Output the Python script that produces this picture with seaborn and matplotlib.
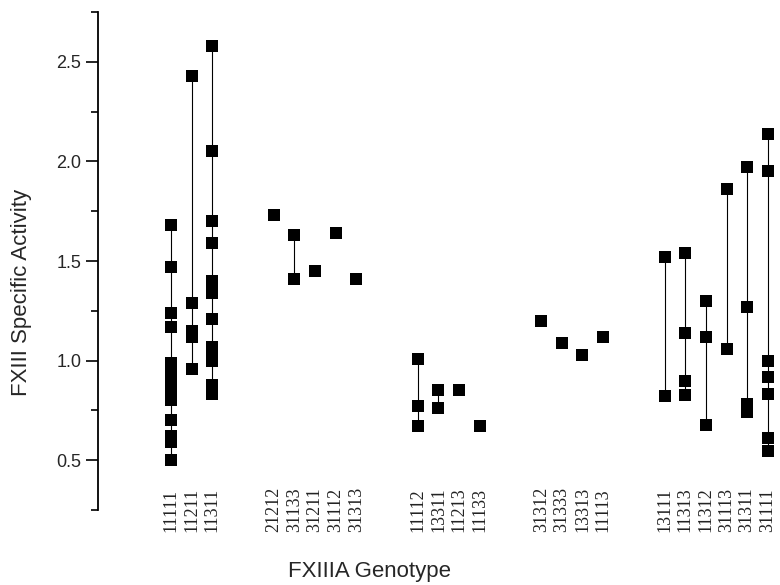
import numpy as np
import pandas as pd
import matplotlib
matplotlib.use("Agg")
import matplotlib.pyplot as plt
from matplotlib.ticker import AutoMinorLocator, MultipleLocator
import seaborn as sns

# ---- data ----
genotypes = ["11111", "11211", "11311",
             "21212", "31133", "31211", "31112", "31313",
             "11112", "13311", "11213", "11133",
             "31312", "31333", "13313", "11113",
             "13111", "11313", "11312", "31113", "31311", "31111"]
group_sizes = [3, 5, 4, 4, 6]
activity = [
    [1.68, 1.47, 1.24, 1.17, 0.99, 0.95, 0.91, 0.88, 0.85, 0.82, 0.80, 0.70, 0.62, 0.59, 0.50],
    [2.43, 1.29, 1.15, 1.12, 0.96],
    [2.58, 2.05, 1.70, 1.59, 1.40, 1.34, 1.21, 1.07, 1.04, 1.00, 0.88, 0.83],
    [1.73],
    [1.63, 1.41],
    [1.45],
    [1.64],
    [1.41],
    [1.01, 0.77, 0.67],
    [0.85, 0.76],
    [0.85],
    [0.67],
    [1.20],
    [1.09],
    [1.03],
    [1.12],
    [1.52, 0.82],
    [1.54, 1.14, 0.90, 0.825],
    [1.30, 1.12, 0.675],
    [1.86, 1.06],
    [1.97, 1.27, 0.78, 0.74],
    [2.14, 1.95, 1.00, 0.92, 0.83, 0.61, 0.545],
]

# ---- layout: gap of 2 empty slots between groups ----
GAP = 2
positions = []
slot = 0
for gsize in group_sizes:
    for _ in range(gsize):
        positions.append(slot)
        slot += 1
    slot += GAP

rows = []
for g, pos, vals in zip(genotypes, positions, activity):
    for v in vals:
        rows.append({"genotype": g, "pos": pos, "activity": v})
df = pd.DataFrame(rows)

sns.set_theme(style="ticks")
plt.rcParams["font.family"] = ["Liberation Sans", "DejaVu Sans"]

fig = plt.figure(figsize=(7.8, 5.85), dpi=100)
ax = fig.add_axes([98 / 780, 1 - 510 / 585, 1 - 98 / 780, (510 - 12) / 585])

# range lines
rng = df.groupby("pos")["activity"].agg(["min", "max"]).reset_index()
rng = rng[rng["max"] > rng["min"]]
ax.vlines(rng["pos"], rng["min"], rng["max"], colors="black", linewidth=0.8, zorder=1)

sns.scatterplot(data=df, x="pos", y="activity", marker="s", color="black",
                s=66, linewidth=0, ax=ax, zorder=2, legend=False)

ax.set_xlim(-3.55, 29.6)
ax.set_ylim(0.25, 2.75)
ax.yaxis.set_major_locator(MultipleLocator(0.5))
ax.yaxis.set_minor_locator(AutoMinorLocator(2))
ax.set_yticks([0.5, 1.0, 1.5, 2.0, 2.5])
ax.set_yticklabels(["0.5", "1.0", "1.5", "2.0", "2.5"], fontsize=13)
ax.tick_params(axis="y", which="major", direction="out", length=9, width=1.2, pad=3, color="black")
ax.tick_params(axis="y", which="minor", direction="out", length=5, width=1.2, color="black")
ax.set_xticks([])
ax.set_xlabel("")
ax.set_ylabel("")
for side in ["top", "right", "bottom"]:
    ax.spines[side].set_visible(False)
ax.spines["left"].set_linewidth(1.3)
ax.spines["left"].set_color("black")

# genotype labels under the points (rotated, reading bottom to top)
for g, pos in zip(genotypes, positions):
    ax.text(pos, 0.14, g, rotation=90, ha="center", va="bottom", clip_on=False,
            fontsize=13, family=["Liberation Serif", "DejaVu Serif"], color="#222222")

fig.text(370 / 780, 1 - 572 / 585, "FXIIIA Genotype", ha="center", va="center", fontsize=16)
fig.text(22 / 780, 1 - 292 / 585, "FXIII Specific Activity", ha="center", va="center",
         rotation=90, fontsize=16)

fig.savefig("out.png", dpi=100)
